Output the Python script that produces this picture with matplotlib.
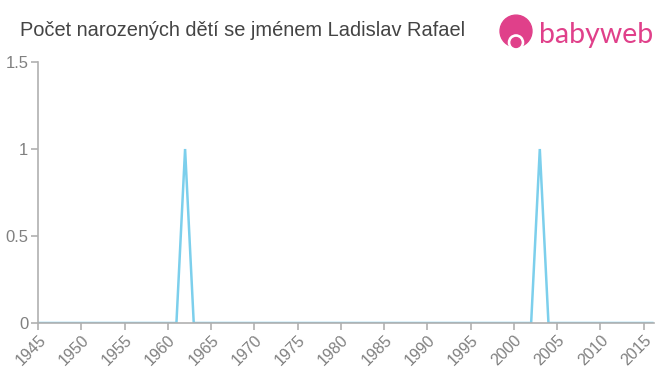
import matplotlib
matplotlib.use("Agg")
import matplotlib.pyplot as plt
from matplotlib.patches import Circle

plt.rcParams["font.family"] = ["Liberation Sans", "DejaVu Sans"]

years = list(range(1945, 2017))
peak_years = [1962, 2003]
peak_values = [1, 1]
values = [peak_values[peak_years.index(y)] if y in peak_years else 0 for y in years]
xticks = list(range(1945, 2016, 5))
yticks = [0, 0.5, 1, 1.5]
ytick_labels = ["0", "0.5", "1", "1.5"]
title = "Počet narozených dětí se jménem Ladislav Rafael"

fig = plt.figure(figsize=(6.6, 3.75), dpi=100)
ax = fig.add_axes([38/660, 1-323/375, (654-38)/660, (323-62)/375])
ax.plot(years, values, color="#7ccfec", lw=1.8, solid_joinstyle="miter")
ax.set_xlim(1945, 2016.2)
ax.set_ylim(0, 1.5)
ax.set_xticks(xticks)
ax.set_xticklabels([str(x) for x in xticks], rotation=45, ha="right", va="top",
                   rotation_mode="anchor", fontsize=11.5, color="#808080")
ax.set_yticks(yticks)
ax.set_yticklabels(ytick_labels, fontsize=12, color="#808080")
for s in ["top", "right"]:
    ax.spines[s].set_visible(False)
for s in ["left", "bottom"]:
    ax.spines[s].set_color("#b0b0b0")
    ax.spines[s].set_linewidth(1.2)
ax.tick_params(axis="both", colors="#b0b0b0", length=5, width=1.2)
ax.tick_params(axis="x", pad=2, labelcolor="#808080")
ax.tick_params(axis="y", pad=2, labelcolor="#808080")

fig.text(20/660, 1-30/375, title, fontsize=14.4, color="#444444", va="center", ha="left")

# logo
logo_ax = fig.add_axes([497/660, 1-52/375, 38/660, 38/375])
logo_ax.set_xlim(0, 1); logo_ax.set_ylim(0, 1); logo_ax.axis("off")
logo_ax.set_aspect("equal")
logo_ax.add_patch(Circle((0.5, 0.55), 0.42, color="#e0408a"))
logo_ax.add_patch(Circle((0.5, 0.25), 0.2, color="white"))
logo_ax.add_patch(Circle((0.5, 0.25), 0.13, color="#e0408a"))
fig.text(539/660, 1-35/375, "babyweb", fontsize=20.5, color="#e0408a", va="center", ha="left",
         family=["Lato", "DejaVu Sans"])

fig.savefig("out.png", dpi=100)
